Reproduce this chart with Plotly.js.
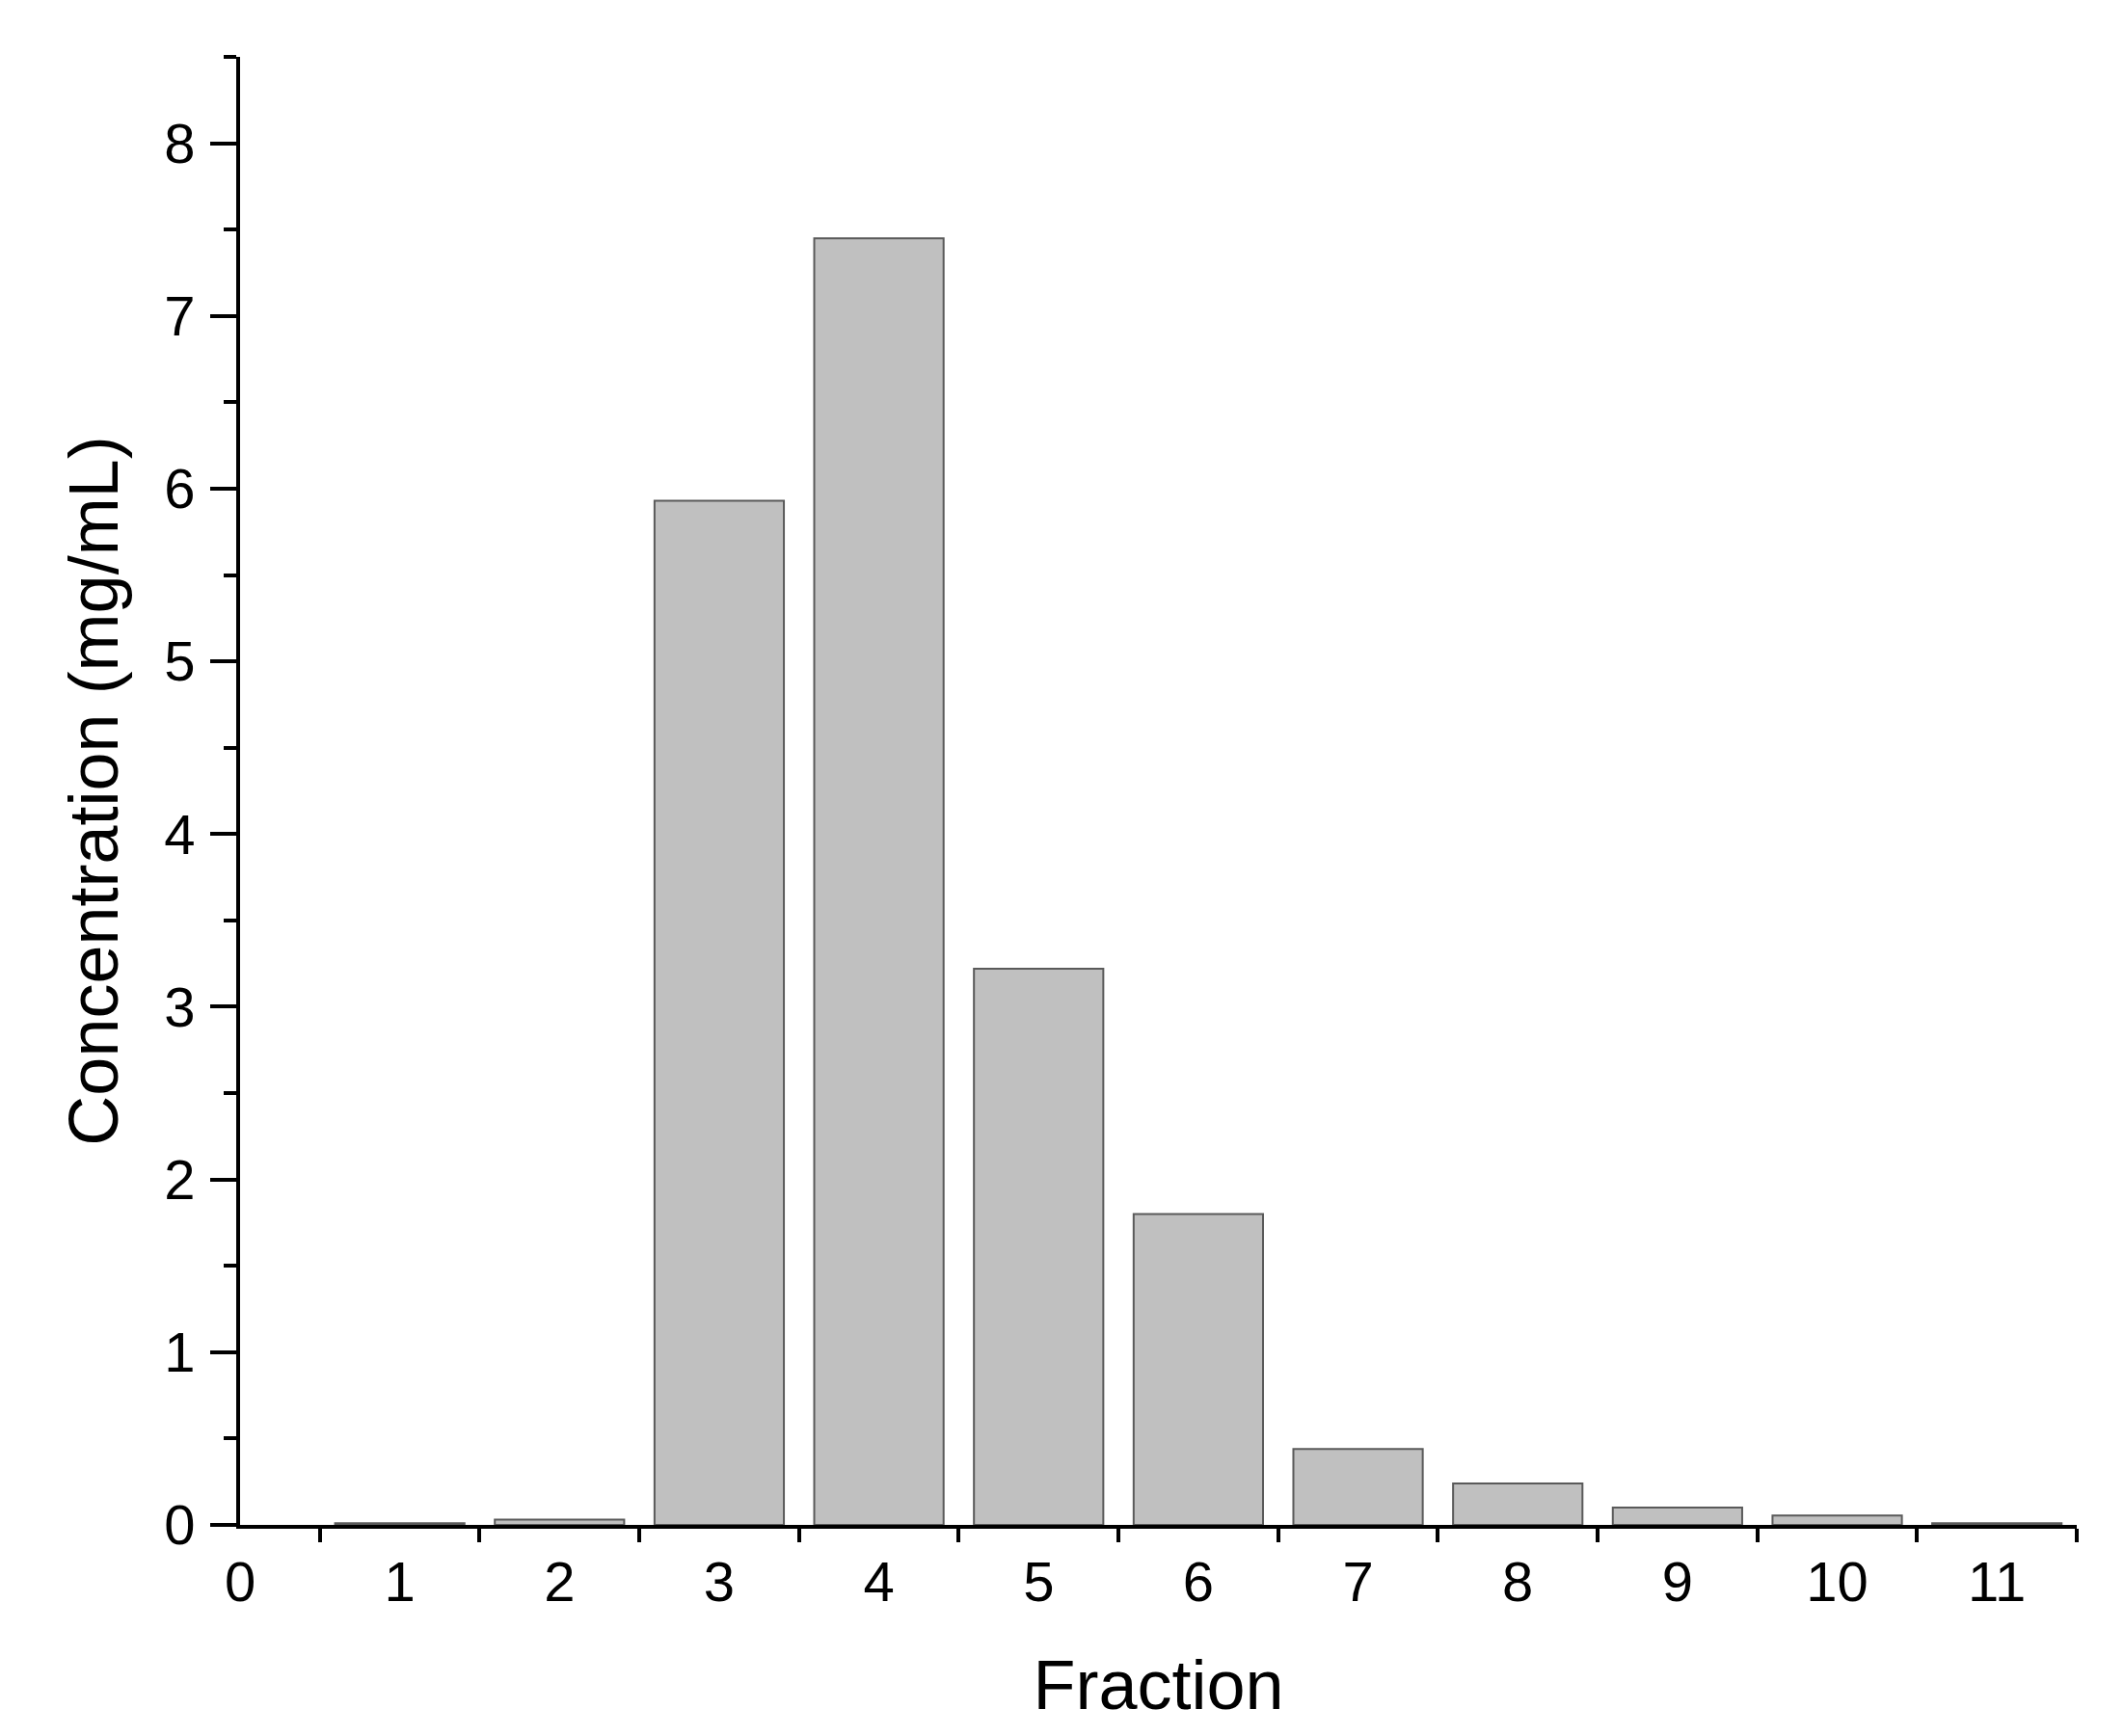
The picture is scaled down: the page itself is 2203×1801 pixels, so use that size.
<!DOCTYPE html>
<html>
<head>
<meta charset="utf-8">
<script src="https://cdn.plot.ly/plotly-3.0.1.min.js"></script>
<style>
  html, body { margin: 0; padding: 0; background: #fff; }
  #myDiv { width: 2203px; height: 1801px; }
</style>
</head>
<body>
<div id="myDiv"></div>
<script>
// fraction number and protein concentration (mg/mL)
var fractions = [1, 2, 3, 4, 5, 6, 7, 8, 9, 10, 11];
var concentration = [0.01, 0.03, 5.93, 7.45, 3.22, 1.80, 0.44, 0.24, 0.10, 0.055, 0.01];

var xTitle = 'Fraction';
var yTitle = 'Concentration (mg/mL)';

var font = 'Arial, "Liberation Sans", sans-serif';

var bars = {
  x: fractions,
  y: concentration,
  type: 'bar',
  marker: {
    color: '#c0c0c0',
    line: {color: '#5a5a5a', width: 2}
  },
  hoverinfo: 'x+y'
};

var layout = {
  width: 2203,
  height: 1801,
  paper_bgcolor: '#fff',
  plot_bgcolor: '#fff',
  margin: {l: 249, r: 49, t: 59, b: 219},
  showlegend: false,
  bargap: 0.19,
  font: {family: font, color: '#000'},
  xaxis: {
    range: [0, 11.5],
    tickmode: 'linear',
    tick0: 0,
    dtick: 1,
    ticks: 'outside',
    ticklen: 0,
    ticklabelstandoff: 5,
    tickfont: {size: 58, family: font},
    minor: {ticks: 'outside', tick0: 0.5, dtick: 1, ticklen: 14, tickwidth: 4, tickcolor: '#000'},
    showline: true,
    linecolor: '#000',
    linewidth: 4,
    showgrid: false,
    zeroline: false,
    title: {text: xTitle, font: {size: 72, family: font}, standoff: 52}
  },
  yaxis: {
    range: [0, 8.5],
    tickmode: 'linear',
    tick0: 0,
    dtick: 1,
    ticks: 'outside',
    ticklen: 27,
    tickwidth: 4,
    tickcolor: '#000',
    ticklabelstandoff: 4,
    tickfont: {size: 58, family: font},
    minor: {ticks: 'outside', dtick: 0.5, ticklen: 13, tickwidth: 4, tickcolor: '#000'},
    showline: true,
    linecolor: '#000',
    linewidth: 4,
    showgrid: false,
    zeroline: false,
    title: {text: yTitle, font: {size: 72, family: font}, standoff: 25}
  }
};

Plotly.newPlot('myDiv', [bars], layout, {displayModeBar: false, staticPlot: true});
</script>
</body>
</html>
